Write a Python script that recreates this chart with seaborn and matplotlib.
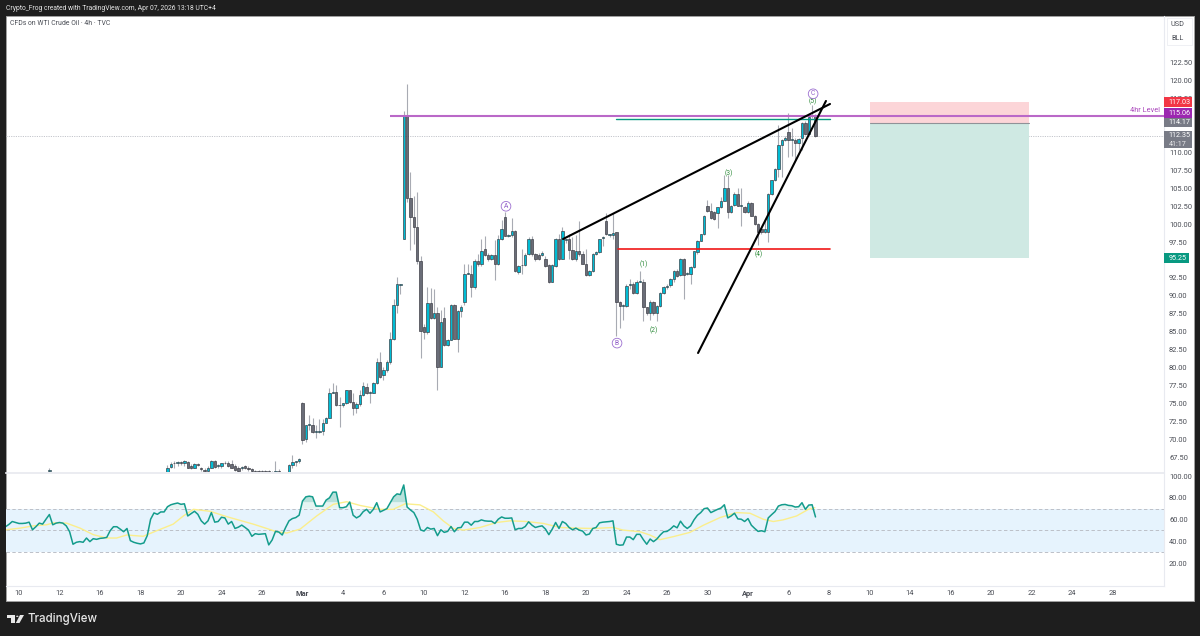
import numpy as np
import matplotlib
matplotlib.use("Agg")
import matplotlib.pyplot as plt
from matplotlib.patches import Rectangle, Polygon, Circle
import seaborn as sns

# ---- DATA ----
candle_bars = [9] + list(range(44, 237))

opens = [65.6,
    65.3, 66.1, 66.6, 66.7, 66.8, 66.7, 66.8, 66.3, 66.0, 66.5,
    65.9, 65.7, 65.6, 66.0, 67.0, 66.2, 66.2, 66.7, 66.6, 66.5,
    66.2, 66.0, 65.9, 66.2, 66.0, 65.8, 65.5, 65.5, 65.5, 65.5,
    65.5, 65.3, 65.3, 65.6, 65.2, 65.2, 65.3, 66.4, 66.8, 66.9,
    75.1, 70.0, 72.0, 72.0, 71.0, 71.0, 71.1, 72.3, 73.0, 76.5,
    76.6, 74.7, 74.7, 75.0, 76.8, 75.2, 74.3, 74.85, 76.15, 77.3,
    76.5, 76.5, 77.9, 80.8, 78.95, 79.65, 80.7, 84.0, 88.7, 91.5,
    98.0, 115.1, 103.7, 101.0, 99.65, 94.9, 85.7, 84.9, 89.0, 86.9,
    87.6, 80.1, 86.9, 83.1, 83.9, 88.7, 84.0, 87.9, 89.2, 93.1,
    93.1, 91.2, 94.8, 94.4, 96.6, 95.7, 95.1, 95.7, 94.4, 97.9,
    100.95, 98.4, 98.5, 99.1, 93.3, 94.25, 94.35, 95.8, 97.9, 95.8,
    95.7, 95.7, 95.2, 94.3, 92.0, 94.2, 98.0, 95.2, 97.8, 97.9,
    96.4, 95.1, 96.2, 95.8, 94.4, 92.9, 93.4, 95.9, 96.1, 98.1,
    100.5, 98.5, 98.5, 98.85, 89.1, 88.6, 88.6, 91.5, 91.6, 90.45,
    92.0, 92.0, 88.4, 87.55, 89.1, 87.6, 88.6, 90.35, 91.3, 91.5,
    92.35, 93.5, 92.9, 95.2, 93.1, 93.1, 94.0, 96.05, 97.7, 98.6,
    102.6, 101.9, 101.65, 101.5, 102.35, 103.3, 105.0, 101.65, 102.7, 104.2,
    102.6, 102.45, 101.65, 103.0, 101.2, 100.0, 99.3, 98.95, 98.9, 104.2,
    106.1, 107.7, 111.0, 111.75, 112.9, 111.75, 111.75, 111.4, 112.0, 114.1,
    112.55, 115.15, 115.25]

highs = [66.0,
    66.4, 66.8, 67.0, 67.0, 67.0, 67.1, 67.0, 66.5, 66.6, 66.6,
    66.1, 66.0, 66.2, 67.1, 67.1, 66.5, 66.7, 66.9, 67.0, 67.1,
    66.5, 66.2, 66.2, 66.4, 66.2, 66.0, 65.7, 65.7, 65.7, 65.7,
    65.7, 65.5, 67.0, 65.8, 65.4, 65.4, 66.5, 67.8, 67.0, 67.3,
    75.2, 72.0, 73.4, 72.9, 72.0, 72.8, 72.8, 73.1, 77.2, 77.9,
    77.5, 75.9, 75.1, 76.9, 76.9, 76.4, 75.2, 76.8, 78.0, 77.9,
    76.7, 78.0, 81.3, 82.1, 80.0, 81.0, 85.0, 89.6, 92.6, 91.7,
    115.8, 119.6, 107.3, 103.9, 104.5, 95.5, 86.0, 91.3, 91.1, 91.0,
    88.5, 88.0, 88.5, 84.0, 88.8, 88.9, 88.0, 88.7, 94.4, 94.5,
    94.3, 95.2, 95.9, 98.0, 98.3, 96.0, 95.8, 97.8, 98.5, 100.6,
    101.75, 98.6, 100.8, 99.2, 94.3, 96.6, 96.0, 98.2, 98.4, 96.0,
    96.0, 96.2, 95.5, 94.5, 94.5, 98.1, 98.7, 99.65, 98.0, 98.7,
    98.2, 98.5, 100.5, 96.2, 96.6, 93.6, 96.0, 96.3, 98.0, 98.3,
    101.5, 98.7, 101.5, 98.9, 89.3, 88.8, 91.6, 92.3, 92.0, 92.2,
    93.4, 92.4, 88.5, 89.4, 89.3, 88.7, 90.5, 91.4, 91.6, 92.5,
    93.6, 93.7, 95.3, 95.3, 93.3, 94.1, 96.3, 97.8, 98.7, 101.3,
    103.4, 102.9, 101.8, 102.4, 103.8, 106.8, 106.8, 102.7, 104.5, 105.1,
    105.1, 102.6, 103.2, 103.1, 101.3, 100.2, 99.5, 100.6, 104.3, 106.2,
    107.8, 113.9, 111.9, 112.3, 115.5, 113.4, 112.0, 112.0, 114.3, 114.4,
    115.1, 116.6, 115.4]

lows = [65.3,
    65.0, 65.9, 65.9, 66.2, 66.4, 66.3, 65.9, 65.8, 65.9, 66.2,
    65.5, 65.4, 65.5, 65.9, 66.0, 65.9, 66.0, 66.5, 66.1, 65.9,
    65.6, 65.4, 65.7, 65.8, 65.6, 65.3, 65.3, 65.3, 65.3, 65.3,
    65.3, 65.0, 65.2, 65.3, 65.0, 65.0, 65.2, 66.0, 66.3, 66.7,
    69.3, 69.6, 71.3, 70.8, 70.1, 70.8, 70.6, 72.2, 72.9, 76.4,
    74.6, 71.7, 74.5, 74.9, 75.1, 73.4, 73.7, 74.6, 76.0, 76.3,
    75.0, 76.4, 77.7, 78.6, 78.2, 79.4, 80.5, 83.9, 87.6, 90.3,
    98.0, 103.1, 96.4, 97.3, 94.5, 81.3, 84.0, 84.7, 86.7, 86.7,
    76.8, 80.0, 83.0, 83.0, 83.8, 84.0, 82.1, 87.0, 88.7, 93.0,
    89.9, 91.0, 94.2, 94.1, 95.6, 94.8, 95.0, 92.2, 94.3, 97.8,
    98.4, 98.2, 98.2, 93.3, 93.0, 93.1, 94.2, 95.7, 95.5, 94.9,
    95.0, 95.6, 94.0, 91.8, 91.9, 94.0, 95.0, 95.1, 97.4, 95.2,
    95.0, 94.9, 95.6, 94.4, 92.8, 92.7, 93.3, 95.7, 96.0, 96.9,
    98.5, 98.2, 98.0, 84.4, 85.5, 86.6, 88.5, 91.0, 90.2, 90.3,
    91.9, 86.5, 87.3, 86.6, 87.3, 86.5, 88.5, 90.2, 90.9, 91.2,
    92.0, 92.6, 92.8, 89.5, 92.9, 91.7, 93.9, 95.9, 97.6, 98.5,
    101.7, 100.7, 100.6, 99.4, 102.2, 103.2, 100.9, 101.5, 102.6, 102.5,
    99.7, 101.5, 101.5, 101.1, 99.9, 97.1, 98.7, 98.8, 97.5, 104.1,
    106.0, 106.6, 106.6, 111.6, 109.4, 109.5, 108.9, 110.4, 110.4, 112.4,
    112.4, 114.8, 112.2]

closes = [65.6,
    66.0, 66.5, 66.6, 66.8, 66.7, 66.9, 66.0, 65.9, 66.5, 66.4,
    65.8, 65.6, 66.0, 67.0, 66.1, 66.2, 66.6, 66.6, 66.2, 66.0,
    65.7, 65.5, 66.1, 65.9, 65.8, 65.5, 65.4, 65.4, 65.4, 65.4,
    65.4, 65.2, 65.6, 65.4, 65.1, 65.1, 66.4, 66.8, 66.9, 67.2,
    69.9, 72.0, 72.0, 71.0, 71.0, 71.0, 72.3, 73.0, 76.4, 76.6,
    74.7, 74.7, 75.0, 76.8, 75.2, 74.3, 74.85, 76.15, 77.4, 76.5,
    76.5, 77.9, 80.8, 78.7, 79.65, 80.8, 84.0, 88.7, 91.6, 91.5,
    115.1, 103.6, 101.0, 99.65, 94.9, 85.1, 84.9, 89.0, 86.9, 87.6,
    80.1, 86.3, 83.1, 83.9, 88.7, 84.0, 87.9, 88.5, 93.1, 93.1,
    91.2, 94.8, 94.5, 96.3, 95.7, 95.1, 95.7, 94.4, 97.9, 99.3,
    98.4, 98.4, 99.1, 93.4, 94.2, 94.25, 95.7, 97.9, 95.8, 95.1,
    95.1, 96.0, 94.2, 92.0, 94.3, 98.0, 95.2, 99.0, 97.8, 96.4,
    95.1, 96.2, 95.8, 94.5, 92.9, 93.4, 95.8, 96.1, 97.9, 98.1,
    98.6, 98.5, 98.8, 89.1, 88.6, 88.6, 91.4, 91.5, 90.35, 92.0,
    92.0, 88.4, 87.55, 89.1, 87.55, 88.6, 90.35, 91.2, 91.3, 92.35,
    93.5, 92.7, 95.2, 92.9, 93.1, 94.0, 96.2, 97.7, 98.6, 101.2,
    101.9, 100.8, 100.7, 102.35, 103.3, 105.0, 101.65, 102.6, 104.2, 102.6,
    102.6, 101.65, 103.0, 101.2, 100.0, 98.95, 98.95, 99.3, 104.2, 106.1,
    107.7, 111.0, 111.75, 112.0, 111.75, 111.75, 111.4, 111.85, 114.1, 112.55,
    115.0, 115.15, 112.35]

# RSI, one value per bar from bar -4 up to bar 236
rsi_values = [
    53.4, 55.5, 58.2, 57.3, 56.4, 56.4, 56.7, 57.6, 50.6, 53.4,
    56.7, 55.8, 60.3, 64.6, 55.2, 56.7, 57.3, 56.7, 54.2, 48.8,
    37.3, 39.1, 39.7, 39.1, 43.0, 39.7, 42.4, 41.8, 42.7, 43.0,
    43.6, 49.7, 53.4, 53.4, 51.2, 48.8, 51.8, 40.6, 39.1, 38.2,
    37.6, 38.5, 45.2, 60.3, 66.1, 64.8, 67.0, 67.0, 71.8, 73.6,
    74.5, 75.2, 74.0, 74.5, 63.3, 65.5, 67.6, 64.8, 58.8, 55.8,
    58.8, 66.4, 57.6, 58.2, 62.1, 61.5, 55.8, 58.2, 51.8, 53.0,
    54.9, 52.7, 50.3, 44.6, 47.0, 46.4, 46.7, 47.0, 36.7, 41.2,
    49.1, 48.5, 45.8, 52.7, 58.8, 60.9, 61.8, 64.0, 77.0, 80.9,
    81.5, 80.9, 72.4, 72.4, 72.4, 77.9, 80.0, 85.2, 85.2, 70.9,
    70.9, 71.8, 76.1, 64.0, 61.5, 63.3, 67.3, 69.4, 65.8, 69.4,
    75.5, 67.0, 68.5, 70.0, 75.5, 80.9, 83.6, 83.0, 91.8, 71.5,
    68.8, 66.4, 60.3, 50.5, 49.4, 52.7, 51.2, 51.8, 45.2, 50.6,
    48.2, 49.1, 53.6, 48.8, 52.4, 52.7, 57.6, 57.6, 54.8, 58.2,
    58.2, 59.7, 58.8, 58.5, 58.5, 56.4, 60.3, 62.4, 61.2, 61.2,
    61.5, 50.6, 51.8, 51.8, 53.6, 57.9, 54.8, 52.7, 53.6, 54.2,
    51.2, 46.1, 51.2, 57.3, 51.8, 58.2, 56.4, 52.7, 50.6, 52.1,
    50.3, 49.4, 45.8, 46.7, 51.8, 52.7, 57.0, 57.6, 57.9, 58.2,
    58.8, 37.3, 36.4, 36.7, 43.9, 43.9, 41.5, 46.4, 46.4, 41.5,
    37.3, 42.1, 39.7, 42.1, 45.8, 48.8, 49.1, 51.2, 54.2, 52.4,
    58.5, 54.2, 51.8, 54.2, 59.7, 63.9, 66.4, 70.0, 70.6, 66.4,
    67.9, 69.4, 70.6, 73.6, 61.5, 63.3, 65.8, 60.6, 60.3, 58.2,
    60.9, 54.8, 51.8, 49.1, 49.7, 48.8, 61.5, 64.5, 67.3, 72.4,
    73.6, 73.9, 73.0, 72.7, 71.5, 71.8, 75.5, 69.4, 73.3, 73.6,
    62.4]
rsi_first_bar = -4

ma_bars = [-3.9, 0.3, 4.2, 8.2, 10.2, 14.1, 18.1, 22, 26, 28.9, 31.9, 36.8, 40.8,
           45.7, 48.7, 51.7, 56.6, 61.5, 69.4, 73.4, 76.3, 79.3, 83.3, 88.2, 93.1,
           97.1, 101, 107, 110.9, 114.4, 118.8, 122.8, 125.7, 128.7, 131.7, 136.6,
           141.5, 145.5, 150.4, 155.4, 160.3, 165.2, 170.2, 176.1, 179, 184, 186.9,
           189.9, 193.9, 198.8, 202.8, 207.7, 212.6, 216.6, 220.5, 223.5, 226.4,
           230.4, 233.9, 235.8]
ma_values = [50.6, 52.1, 54.2, 55.2, 57, 56.7, 52.1, 46.1, 43, 43, 45.8, 44.6, 49.7,
             55.8, 63.3, 69.4, 67.6, 62.7, 55.8, 51.8, 48.8, 47.6, 51.2, 63.3, 74,
             76.4, 73, 69.4, 69.4, 74.5, 73.5, 67, 58.8, 51.8, 50.3, 52.7,
             57.3, 58.8, 58.2, 56.4, 52.7, 52.1, 51.8, 52.7, 50.3, 48.8, 45.8,
             41.5, 44.3, 48.2, 54.8, 61.8, 66.4, 65.8, 60.3, 58.2, 59.7,
             63.3, 69.4, 70.9]

date_labels = ["10", "12", "16", "18", "20", "24", "26", "Mar", "4", "6", "10", "12", "16", "18",
               "20", "24", "26", "30", "Apr", "6", "8", "10", "14", "16", "20", "22", "24", "28"]
# 95, 112.5 and 115 sit fully under the coloured price labels
price_ticks = [67.5, 70, 72.5, 75, 77.5, 80, 82.5, 85, 87.5, 90, 92.5, 97.5, 100, 102.5,
               105, 107.5, 110, 117.5, 120, 122.5]
rsi_ticks = [20, 40, 60, 80, 100]

level_price = 115.06
last_price = 112.35
entry_line_price = 114.68
entry_price = 114.17
stop_price = 117.03
target_price = 95.25
position_bars = [252.1, 299.3]
red_line_price = 96.58
red_line_bars = [177.5, 240.3]
entry_line_bars = [177.0, 240.3]
upper_trend_bars = [161.2, 240.3]
upper_trend_prices = [97.93, 116.78]
lower_trend_bars = [201.2, 239.1]
lower_trend_prices = [82.02, 117.2]

wave_texts = ["(1)", "(2)", "(3)", "(4)", "(5)"]
wave_bars = [185.2, 188.1, 210.4, 219.3, 235.3]
wave_prices = [94.44, 85.1, 107.1, 95.8, 117.2]
abc_texts = ["A", "B", "C"]
abc_bars = [144.3, 177.2, 235.3]
abc_prices = [102.5, 83.4, 118.2]

# ---- COLOURS ----
dark_bg = "#1e1e1e"
up_col = "#00bcd4"
down_col = "#6a6d78"
edge_col = "#33343c"
wick_col = "#a8abb3"
text_col = "#4a4d55"
purple = "#ba68c8"
rsi_col = "#089981"

sns.set_theme(style="white")
plt.rcParams["font.family"] = ["Roboto", "DejaVu Sans"]

W, H = 1200, 636
fig = plt.figure(figsize=(W / 100, H / 100), dpi=100, facecolor=dark_bg)


def fx(px):
    return px / W


def fy(py):
    return 1 - py / H


def add_pane(left, top, right, bottom):
    return fig.add_axes([fx(left), fy(bottom), fx(right - left), (bottom - top) / H])


# white chart area with its thin grey frame, kept behind the panes
fig.add_artist(Rectangle((fx(6), fy(601)), fx(1188), 585 / H, transform=fig.transFigure,
                         facecolor="white", edgecolor="#a0a0a0", lw=0.7, zorder=-5))

ax = add_pane(6, 16, 1164, 472)
ax_rsi = add_pane(6, 473, 1164, 586)
for a in (ax, ax_rsi):
    a.patch.set_alpha(0)
    a.set_xlim(-3.85, 339.26)
    for s in a.spines.values():
        s.set_visible(False)
    a.spines["right"].set_visible(True)
    a.spines["right"].set_color("#e8eaf0")
    a.spines["right"].set_linewidth(0.8)
    a.yaxis.tick_right()
    a.tick_params(axis="y", length=0, pad=3.6, labelsize=5.4, labelcolor=text_col)
ax_rsi.spines["top"].set_visible(True)
ax_rsi.spines["top"].set_color("#e8eaf0")
ax_rsi.spines["bottom"].set_visible(True)
ax_rsi.spines["bottom"].set_color("#e8eaf0")
ax_rsi.spines["bottom"].set_linewidth(0.8)

# ---- PRICE PANE ----
ax.set_ylim(65.41, 129.06)
ax.set_yticks(price_ticks)
ax.set_yticklabels([f"{t:.2f}" for t in price_ticks])
ax.set_xticks([])

bars = np.array(candle_bars, dtype=float)
o, hi, lo, c = map(np.array, (opens, highs, lows, closes))
is_up = c >= o
ax.vlines(bars, lo, hi, color=wick_col, lw=0.8, zorder=2)
ax.bar(bars, np.maximum(np.abs(c - o), 0.12), bottom=np.minimum(o, c), width=0.72,
       color=np.where(is_up, up_col, down_col), edgecolor=edge_col, linewidth=0.45, zorder=3)

ax.axhline(last_price, color="#c4c6cc", lw=0.7, ls=(0, (1.2, 1.2)), zorder=1)

# long position tool
box_w = position_bars[1] - position_bars[0]
ax.add_patch(Rectangle((position_bars[0], entry_price), box_w, stop_price - entry_price,
                       facecolor="#fcd5d8", edgecolor="none", zorder=1))
ax.add_patch(Rectangle((position_bars[0], target_price), box_w, entry_price - target_price,
                       facecolor="#cfe9e3", edgecolor="none", zorder=1))
ax.plot(position_bars, [entry_price] * 2, color="#8f9298", lw=0.8, zorder=2)

ax.plot(red_line_bars, [red_line_price] * 2, color="#f01818", lw=1.2, zorder=4)
ax.plot(entry_line_bars, [entry_line_price] * 2, color=rsi_col, lw=1.0, zorder=4)
ax.plot([110, 339.26], [level_price] * 2, color=purple, lw=1.5, zorder=5, solid_capstyle="butt")
ax.plot(upper_trend_bars, upper_trend_prices, color="black", lw=1.5, zorder=6)
ax.plot(lower_trend_bars, lower_trend_prices, color="black", lw=1.5, zorder=6)

ax.text(338.2, level_price + 0.35, "4hr Level", color="#ab47bc", fontsize=5.3,
        ha="right", va="bottom", zorder=7)

for t, x, y in zip(wave_texts, wave_bars, wave_prices):
    ax.text(x, y, t, color="#2e8b3a", fontsize=4.8, ha="center", va="center", zorder=7)
for t, x, y in zip(abc_texts, abc_bars, abc_prices):
    ax.text(x, y, t, color="#8e5bc7", fontsize=4.8, ha="center", va="center", zorder=7,
            bbox=dict(boxstyle="circle,pad=0.2", facecolor="white", edgecolor="#9c6fd0", lw=0.6))

# price labels on the axis
trans = ax.get_yaxis_transform()
px_x = 1 / 1158
px_y = 1 / 7.164
label_boxes = [
    ("117.03", stop_price, 10, 28, "#f23645"),
    ("115.06", 115.52, 10, 28, "#9c27b0"),
    ("114.17", entry_price, 9.5, 28, "#787b86"),
    ("95.25", target_price, 10, 25, "#089981"),
]
for txt, centre, h, w, col in label_boxes:
    ax.add_patch(Rectangle((1.0, centre - h * px_y / 2), w * px_x, h * px_y, transform=trans,
                           facecolor=col, edgecolor="none", clip_on=False, zorder=8))
    ax.text(1.0 + 4.5 * px_x, centre, txt, transform=trans, color="white", fontsize=5.2,
            ha="left", va="center", clip_on=False, zorder=9)
ax.add_patch(Rectangle((1.0, 111.82 - 8.5 * px_y), 28 * px_x, 17 * px_y, transform=trans,
                       facecolor="#787b86", edgecolor="none", clip_on=False, zorder=8))
ax.text(1.0 + 4.5 * px_x, 112.35, "112.35", transform=trans, color="white", fontsize=5.2,
        ha="left", va="center", clip_on=False, zorder=9)
ax.text(1.0 + 4.5 * px_x, 111.1, "41:17", transform=trans, color="#e8e8ea", fontsize=5.2,
        ha="left", va="center", clip_on=False, zorder=9)

# ---- RSI PANE ----
ax_rsi.set_ylim(-1.1, 102.8)
rsi_bars = rsi_first_bar + np.arange(len(rsi_values))
rsi_arr = np.array(rsi_values)
ax_rsi.axhspan(30, 70, color="#e6f3fd", lw=0, zorder=0)
for lev in (30, 50, 70):
    ax_rsi.axhline(lev, color="#bcc0c8", lw=0.7, ls=(0, (3.5, 2.5)), zorder=1)
ax_rsi.fill_between(rsi_bars, 70, rsi_arr, where=rsi_arr >= 70, interpolate=True,
                    color=rsi_col, alpha=0.1, lw=0, zorder=2)
ax_rsi.fill_between(rsi_bars, 76, rsi_arr, where=rsi_arr >= 76, interpolate=True,
                    color=rsi_col, alpha=0.2, lw=0, zorder=2)
sns.lineplot(x=ma_bars, y=ma_values, ax=ax_rsi, color="#fbee8c", lw=1.0, zorder=3)
sns.lineplot(x=rsi_bars, y=rsi_values, ax=ax_rsi, color="#149c8c", lw=1.1, zorder=4)
ax_rsi.set_yticks(rsi_ticks)
ax_rsi.set_yticklabels([f"{t:.2f}" for t in rsi_ticks])
ax_rsi.set_xticks(np.arange(len(date_labels)) * 12)
ax_rsi.set_xticklabels(date_labels)
ax_rsi.tick_params(axis="x", length=0, pad=3.0, labelsize=5.4, labelcolor=text_col)
for lab in ax_rsi.get_xticklabels():
    if lab.get_text() in ("Mar", "Apr"):
        lab.set_fontweight("bold")
ax_rsi.set_xlim(-3.85, 339.26)
ax_rsi.set_xlabel("")
ax_rsi.set_ylabel("")

# ---- PAGE TEXT ----
fig.text(fx(6), fy(8.5), "Crypto_Frog created with TradingView.com, Apr 07, 2026 13:18 UTC+4",
         color="#e6e6e6", fontsize=4.9, va="center")
fig.text(fx(10), fy(23.5), "CFDs on WTI Crude Oil · 4h · TVC", color=text_col, fontsize=4.95, va="center")

# currency / unit box
fig.add_artist(Rectangle((fx(1167), fy(45)), fx(25), 27 / H, transform=fig.transFigure,
                         facecolor="white", edgecolor="#eceef2", lw=0.6, zorder=-4))
fig.text(fx(1177), fy(25), "USD", color=text_col, fontsize=5.2, ha="center", va="center")
fig.text(fx(1177), fy(39), "BLL", color=text_col, fontsize=5.2, ha="center", va="center")

# TradingView mark
logo_col = "#e8e8e8"
fig.add_artist(Polygon([(fx(7), fy(615)), (fx(15), fy(615)), (fx(15), fy(623)), (fx(11), fy(623)),
                        (fx(11), fy(618)), (fx(7), fy(618))], closed=True,
                       transform=fig.transFigure, facecolor=logo_col, edgecolor="none"))
fig.add_artist(Circle((fx(17.3), fy(616.3)), 1.2 / W, transform=fig.transFigure,
                      facecolor=logo_col, edgecolor="none"))
fig.add_artist(Polygon([(fx(20), fy(615)), (fx(24), fy(615)), (fx(19.5), fy(623)), (fx(15.8), fy(623))],
                       closed=True, transform=fig.transFigure, facecolor=logo_col, edgecolor="none"))
fig.text(fx(28), fy(619), "TradingView", color=logo_col, fontsize=8.3, fontweight="medium",
         fontfamily=["Inter", "DejaVu Sans"], va="center")

fig.savefig("out.png", dpi=100, facecolor=dark_bg)
